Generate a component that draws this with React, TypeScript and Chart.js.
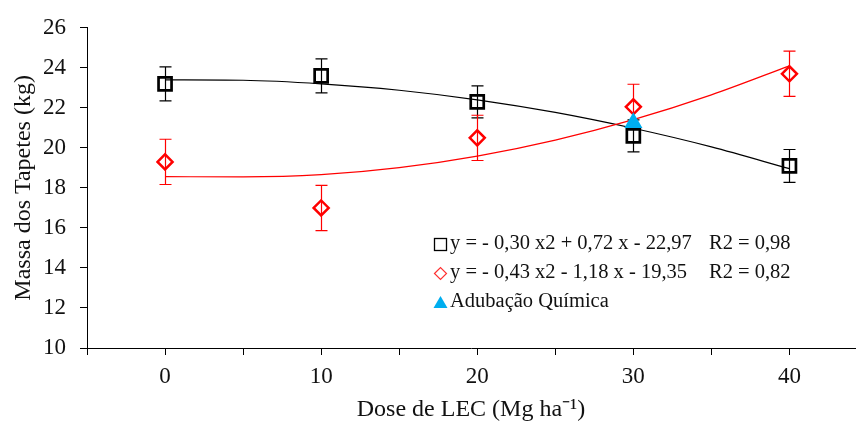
import React, { useEffect, useRef } from "react";
import { Chart, registerables } from "chart.js";

Chart.register(...registerables);

// Doses (x)
const doses = [0, 10, 20, 30, 40];
// Black squares: mean and error
const massSquares = [23.2, 23.6, 22.3, 20.6, 19.1];
const errSquares = [0.85, 0.85, 0.8, 0.8, 0.82];
// Red diamonds: mean and error
const massDiamonds = [19.3, 17.0, 20.5, 22.05, 23.7];
const errDiamonds = [1.13, 1.13, 1.13, 1.13, 1.13];
// Chemical fertilization (single point)
const quimicaX = [30];
const quimicaY = [21.25];
// Trend curves
const trendX = [0, 5, 10, 15, 20, 25, 30, 35, 40];
const trendBlack = [23.4, 23.38, 23.2, 22.88, 22.4, 21.77, 20.98, 20.05, 18.96];
const trendRed = [18.56, 18.55, 18.66, 19.01, 19.59, 20.39, 21.41, 22.65, 24.1];
// Axis ticks
const xTickValues = [-5, 0, 5, 10, 15, 20, 25, 30, 35, 40];
const xLabelValues = [0, 10, 20, 30, 40];
// Legend texts
const legendEq = [
  "y = - 0,30 x2 + 0,72 x - 22,97",
  "y = - 0,43 x2 - 1,18 x - 19,35",
  "Adubação Química",
];
const legendR2 = ["R2 = 0,98", "R2 = 0,82", ""];

const FONT = "'Liberation Serif', 'Times New Roman', serif";
const BLACK = "#000000";
const RED = "#FF0000";
const BLUE = "#00AEEF";
const X_MAX = 44.2;

const errorBarPlugin = {
  id: "errorBars",
  beforeDatasetsDraw(chart: any) {
    const { ctx, scales } = chart;
    const xs = scales.x;
    const ys = scales.y;
    const sets = [
      { m: massSquares, e: errSquares, c: BLACK },
      { m: massDiamonds, e: errDiamonds, c: RED },
    ];
    ctx.save();
    ctx.lineWidth = 1.2;
    sets.forEach((s) => {
      ctx.strokeStyle = s.c;
      doses.forEach((d, i) => {
        const px = Math.round(xs.getPixelForValue(d)) + 0.5;
        const top = ys.getPixelForValue(s.m[i] + s.e[i]);
        const bot = ys.getPixelForValue(s.m[i] - s.e[i]);
        ctx.beginPath();
        ctx.moveTo(px, top);
        ctx.lineTo(px, bot);
        ctx.moveTo(px - 6, top);
        ctx.lineTo(px + 6, top);
        ctx.moveTo(px - 6, bot);
        ctx.lineTo(px + 6, bot);
        ctx.stroke();
      });
    });
    ctx.restore();
  },
};

const legendPlugin = {
  id: "customLegend",
  afterDraw(chart: any) {
    const { ctx } = chart;
    const mx = 440.5;
    const rows = [244, 273, 302];
    ctx.save();
    ctx.font = `20.5px ${FONT}`;
    ctx.textBaseline = "middle";
    ctx.textAlign = "left";
    ctx.fillStyle = "#111";
    rows.forEach((y, i) => {
      ctx.fillText(legendEq[i], 450, y);
      if (legendR2[i]) ctx.fillText(legendR2[i], 709, y);
    });
    // square
    ctx.strokeStyle = BLACK;
    ctx.lineWidth = 1.3;
    ctx.strokeRect(mx - 6, rows[0] - 5.5, 12, 12);
    // diamond
    ctx.strokeStyle = "#FF3030";
    ctx.lineWidth = 1.2;
    ctx.beginPath();
    ctx.moveTo(mx - 6, rows[1] + 0.5);
    ctx.lineTo(mx, rows[1] - 5.5);
    ctx.lineTo(mx + 6, rows[1] + 0.5);
    ctx.lineTo(mx, rows[1] + 6.5);
    ctx.closePath();
    ctx.stroke();
    // triangle
    ctx.fillStyle = BLUE;
    ctx.beginPath();
    ctx.moveTo(mx, rows[2] - 6);
    ctx.lineTo(mx + 7, rows[2] + 6);
    ctx.lineTo(mx - 7, rows[2] + 6);
    ctx.closePath();
    ctx.fill();
    ctx.restore();
  },
};

export default function App() {
  const ref = useRef<HTMLCanvasElement | null>(null);

  useEffect(() => {
    if (!ref.current) return;
    const toXY = (xs: number[], ys: number[]) => xs.map((x, i) => ({ x, y: ys[i] }));
    const chart = new Chart(ref.current, {
      type: "line",
      data: {
        datasets: [
          {
            label: "trend black",
            data: toXY(trendX, trendBlack),
            borderColor: BLACK,
            borderWidth: 1.2,
            pointRadius: 0,
            cubicInterpolationMode: "monotone",
            fill: false,
            order: 4,
          },
          {
            label: "trend red",
            data: toXY(trendX, trendRed),
            borderColor: RED,
            borderWidth: 1.2,
            pointRadius: 0,
            cubicInterpolationMode: "monotone",
            fill: false,
            order: 3,
          },
          {
            label: "squares",
            data: toXY(doses, massSquares),
            showLine: false,
            pointStyle: "rect",
            pointRadius: 9.2,
            pointBorderWidth: 2.7,
            pointBorderColor: BLACK,
            pointBackgroundColor: "rgba(0,0,0,0)",
            order: 2,
          },
          {
            label: "diamonds",
            data: toXY(doses, massDiamonds),
            showLine: false,
            pointStyle: "rectRot",
            pointRadius: 7.5,
            pointBorderWidth: 2.5,
            pointBorderColor: RED,
            pointBackgroundColor: "rgba(0,0,0,0)",
            order: 1,
          },
          {
            label: "Adubação Química",
            data: toXY(quimicaX, quimicaY),
            showLine: false,
            pointStyle: "triangle",
            pointRadius: 10.5,
            pointBorderWidth: 0,
            pointBorderColor: BLUE,
            pointBackgroundColor: BLUE,
            order: 0,
          },
        ],
      },
      options: {
        responsive: false,
        animation: false,
        layout: { autoPadding: false, padding: { top: 26, right: 1, left: 0, bottom: 0 } },
        plugins: {
          legend: { display: false },
          tooltip: { enabled: false },
        },
        scales: {
          x: {
            type: "linear",
            min: -5,
            max: X_MAX,
            afterBuildTicks: (scale: any) => {
              scale.ticks = xTickValues.map((v) => ({ value: v }));
            },
            afterFit: (scale: any) => {
              scale.height = 76;
              scale.paddingLeft = 0;
              scale.paddingRight = 0;
            },
            ticks: {
              padding: 8,
              color: "#111",
              font: { family: FONT, size: 23 },
              callback: (v: any) => (xLabelValues.includes(Number(v)) ? String(v) : ""),
            },
            grid: {
              display: true,
              drawOnChartArea: false,
              drawTicks: true,
              tickLength: 7,
              tickColor: BLACK,
              tickWidth: 1,
            },
            border: { display: true, color: BLACK, width: 1 },
            title: {
              display: true,
              text: "Dose de LEC (Mg ha⁻¹)",
              color: "#111",
              font: { family: FONT, size: 24 },
              padding: { top: 0, bottom: 0 },
            },
          },
          y: {
            type: "linear",
            min: 10,
            max: 26,
            afterFit: (scale: any) => {
              scale.width = 87;
            },
            ticks: {
              stepSize: 2,
              padding: 14,
              color: "#111",
              font: { family: FONT, size: 23 },
            },
            grid: {
              display: true,
              drawOnChartArea: false,
              drawTicks: true,
              tickLength: 7,
              tickColor: BLACK,
              tickWidth: 1,
            },
            border: { display: true, color: BLACK, width: 1 },
            title: {
              display: true,
              text: "Massa dos Tapetes (kg)",
              color: "#111",
              font: { family: FONT, size: 24 },
              padding: { top: 9, bottom: 0 },
            },
          },
        },
      },
      plugins: [errorBarPlugin, legendPlugin],
    } as any);
    return () => chart.destroy();
  }, []);

  return (
    <div style={{ position: "absolute", left: 0, top: 0, width: 856, height: 424, background: "#fff" }}>
      <canvas ref={ref} width={856} height={424} style={{ display: "block" }} />
    </div>
  );
}
